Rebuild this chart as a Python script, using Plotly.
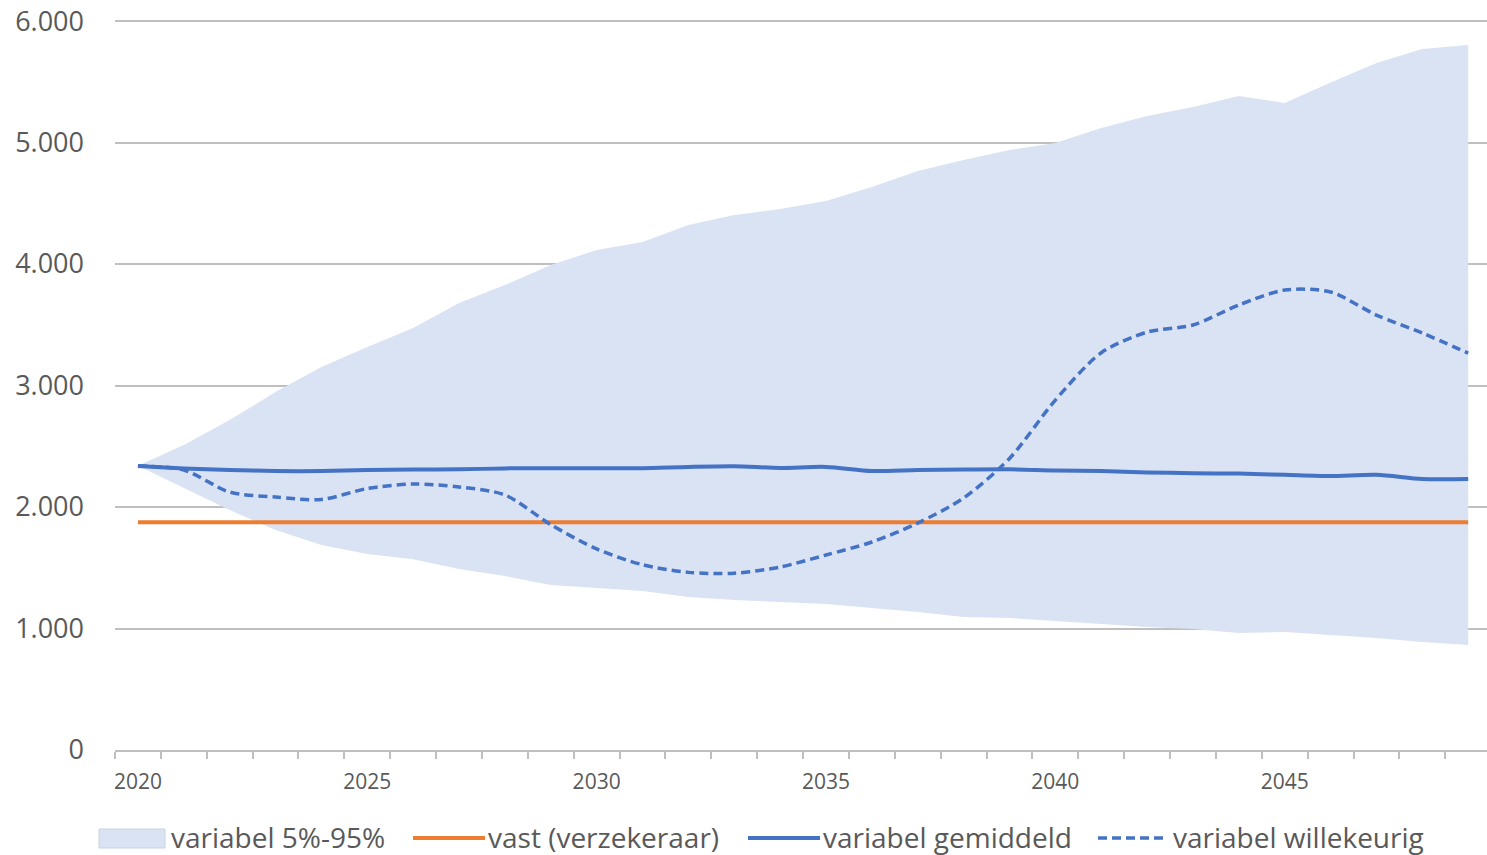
import plotly.graph_objects as go

# Jaren (categorie-as)
JAREN = list(range(2020, 2050))

# Bandbreedte variabel 5%-95%
BOVEN_95 = [2340, 2510, 2716, 2946, 3152, 3317, 3473, 3679, 3827, 3992,
            4115, 4181, 4321, 4403, 4453, 4519, 4634, 4765, 4856, 4938,
            4996, 5119, 5218, 5292, 5383, 5325, 5495, 5654, 5770, 5802]
ONDER_5 = [2340, 2156, 1975, 1810, 1687, 1613, 1570, 1490, 1432, 1358,
           1333, 1309, 1259, 1235, 1218, 1202, 1169, 1136, 1095, 1086,
           1062, 1037, 1012, 996, 963, 971, 947, 922, 889, 864]

# Vaste uitkering (verzekeraar)
VAST = [1875, 1875, 1875, 1875, 1875, 1875, 1875, 1875, 1875, 1875,
        1875, 1875, 1875, 1875, 1875, 1875, 1875, 1875, 1875, 1875,
        1875, 1875, 1875, 1875, 1875, 1875, 1875, 1875, 1875, 1875]

# Variabel gemiddeld
GEMIDDELD = [2337, 2318, 2305, 2296, 2296, 2305, 2308, 2310, 2318, 2320,
             2320, 2320, 2330, 2335, 2322, 2330, 2296, 2305, 2308, 2310,
             2300, 2296, 2285, 2278, 2275, 2265, 2255, 2265, 2230, 2230]

# Variabel willekeurig (één scenario)
WILLEKEURIG = [2337, 2305, 2123, 2082, 2062, 2152, 2189, 2165, 2099, 1855,
               1655, 1525, 1462, 1455, 1506, 1605, 1712, 1868, 2074, 2400,
               2880, 3270, 3440, 3498, 3663, 3786, 3770, 3580, 3432, 3267]

Y_TICKS = [0, 1000, 2000, 3000, 4000, 5000, 6000]
X_LABELS = [2020, 2025, 2030, 2035, 2040, 2045]

LEGENDA = ["variabel 5%-95%", "vast (verzekeraar)",
           "variabel gemiddeld", "variabel willekeurig"]

BLAUW = "#4472C4"
ORANJE = "#ED7D31"
BAND = "#DAE3F3"
TEKST = "#595959"
RASTER = "#BFBFBF"

BREEDTE, HOOGTE = 1487, 855
M_L, M_R, M_T, M_B = 115, 0, 19, 105
PLOT_B = BREEDTE - M_L - M_R
PLOT_H = HOOGTE - M_T - M_B


def px_x(px):
    # schermpixel -> paper-coördinaat (horizontaal)
    return (px - M_L) / PLOT_B


def px_y(py):
    # schermpixel (van boven) -> paper-coördinaat (verticaal)
    return (HOOGTE - M_B - py) / PLOT_H


fig = go.Figure()

# Ondergrens (onzichtbaar), bovengrens vult naar de ondergrens
fig.add_trace(go.Scatter(
    x=JAREN, y=ONDER_5, mode="lines",
    line=dict(width=0, color=BAND),
    showlegend=False, hoverinfo="skip"
))
fig.add_trace(go.Scatter(
    x=JAREN, y=BOVEN_95, mode="lines",
    line=dict(width=0, color=BAND),
    fill="tonexty", fillcolor=BAND,
    name=LEGENDA[0], showlegend=False
))

fig.add_trace(go.Scatter(
    x=JAREN, y=VAST, mode="lines",
    line=dict(color=ORANJE, width=4),
    name=LEGENDA[1], showlegend=False
))
fig.add_trace(go.Scatter(
    x=JAREN, y=GEMIDDELD, mode="lines",
    line=dict(color=BLAUW, width=4, shape="spline", smoothing=0.8),
    name=LEGENDA[2], showlegend=False
))
fig.add_trace(go.Scatter(
    x=JAREN, y=WILLEKEURIG, mode="lines",
    line=dict(color=BLAUW, width=3.5, shape="spline", smoothing=0.8,
              dash="9px,5px"),
    name=LEGENDA[3], showlegend=False
))

# Handmatige legenda onderaan (Excel-stijl)
leg_y = 837
fig.add_shape(type="rect", xref="paper", yref="paper",
              x0=px_x(99), x1=px_x(165), y0=px_y(848), y1=px_y(829),
              fillcolor=BAND, line=dict(color="#C9D2E3", width=1))
fig.add_shape(type="line", xref="paper", yref="paper",
              x0=px_x(413), x1=px_x(485), y0=px_y(838), y1=px_y(838),
              line=dict(color=ORANJE, width=4))
fig.add_shape(type="line", xref="paper", yref="paper",
              x0=px_x(748), x1=px_x(820), y0=px_y(838), y1=px_y(838),
              line=dict(color=BLAUW, width=4))
fig.add_shape(type="line", xref="paper", yref="paper",
              x0=px_x(1098), x1=px_x(1168), y0=px_y(838), y1=px_y(838),
              line=dict(color=BLAUW, width=3.5, dash="9px,5px"))

for tekst, links in zip(LEGENDA, [170, 487, 822, 1172]):
    fig.add_annotation(
        text=tekst, xref="paper", yref="paper",
        x=px_x(links), y=px_y(leg_y),
        xanchor="left", yanchor="middle", showarrow=False,
        borderpad=0,
        font=dict(size=28, color=TEKST)
    )

fig.update_layout(
    width=BREEDTE,
    height=HOOGTE,
    margin=dict(l=M_L, r=M_R, t=M_T, b=M_B),
    paper_bgcolor="white",
    plot_bgcolor="white",
    separators=",.",
    font=dict(family="Open Sans, Noto Sans, sans-serif", color=TEKST),
    showlegend=False,
)

fig.update_xaxes(
    range=[2019.5, 2049.41],
    tickmode="array",
    tickvals=X_LABELS,
    ticktext=[str(j) for j in X_LABELS],
    ticks="",
    tickfont=dict(size=21, color=TEKST),
    ticklabelstandoff=12,
    showgrid=False,
    showline=True,
    linecolor=RASTER,
    linewidth=1.5,
    zeroline=False,
    automargin=False,
    minor=dict(ticks="outside", tick0=2019.5, dtick=1, ticklen=7,
               tickcolor=RASTER, tickwidth=1.5, showgrid=False),
)

# bovengrens iets boven 6.000 zodat de bovenste rasterlijn getekend wordt
fig.update_yaxes(
    range=[0, 6017],
    tickmode="array",
    tickvals=Y_TICKS,
    tickformat=",d",
    tickfont=dict(size=27, color=TEKST),
    showgrid=True,
    gridcolor=RASTER,
    gridwidth=1.5,
    zeroline=False,
    showline=False,
    ticks="",
    ticklabelstandoff=30,
    ticklabeloverflow="allow",
    automargin=False,
)

# body-marge weg, zodat de figuur precies het venster vult
fig.write_html("out.html", config={"displayModeBar": False},
               post_script="document.body.style.margin='0';")
